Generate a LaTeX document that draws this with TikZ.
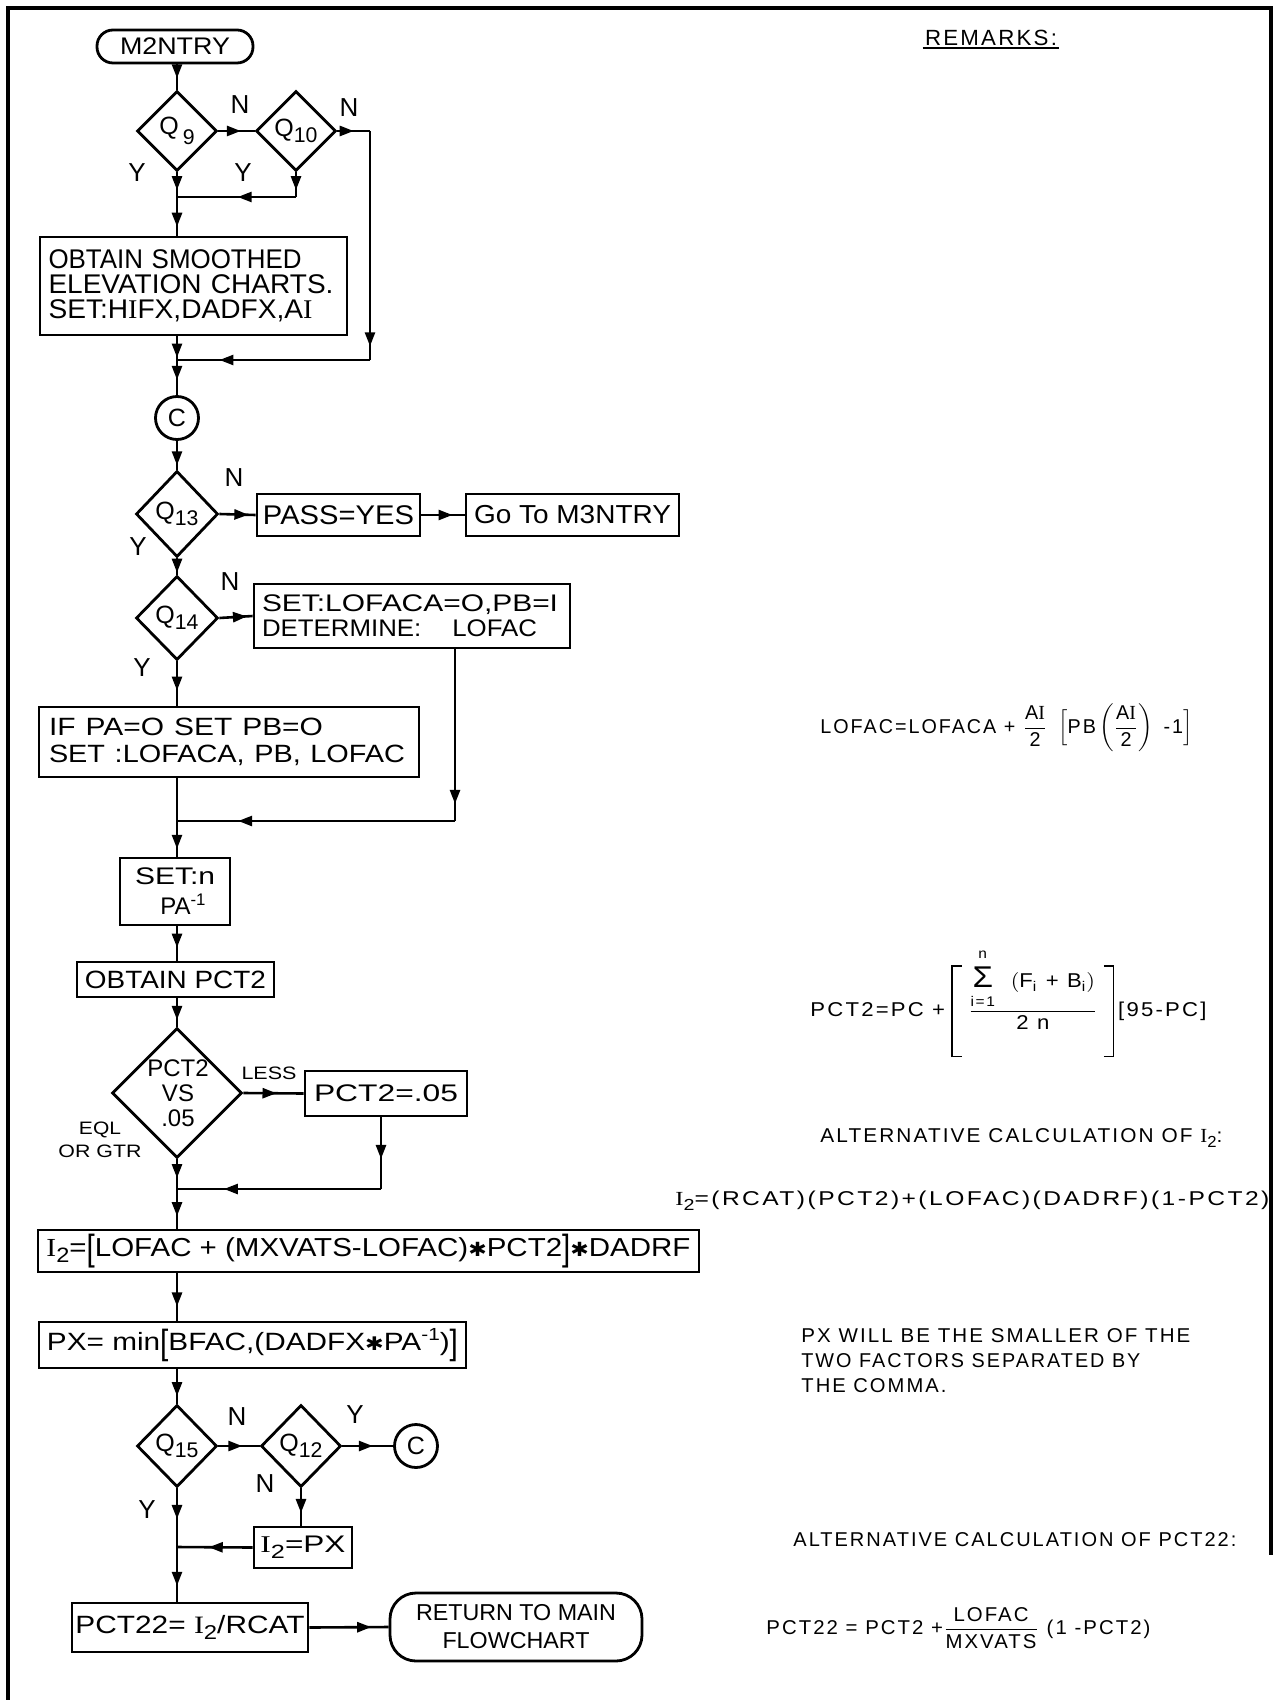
\documentclass[tikz,border=0pt]{standalone}
\usepackage{fontspec}
\usepackage{amsmath}
\usepackage{graphicx}
\setmainfont{Liberation Sans}
\newfontfamily\remfont[LetterSpace=10]{Liberation Sans}
\newfontfamily\serfont{Liberation Serif}
\newfontfamily\djv{DejaVu Sans}
\usetikzlibrary{shapes.geometric, arrows.meta, decorations.markings}
\newcommand{\fs}[1]{\fontsize{#1}{#1}\selectfont}
\newcommand{\fw}[2]{\resizebox{#1}{\height}{#2}}
\newcommand{\Iser}{{\serfont I}}
\newcommand{\sbs}[1]{\raisebox{-0.45ex}{\scalebox{0.8}{#1}}}
\newcommand{\sps}[1]{\raisebox{0.75ex}{\scalebox{0.7}{#1}}}
\newcommand{\strk}{{\djv\scalebox{0.75}{✱}}}
\newcommand{\tbl}{\raisebox{-0.3ex}{\scalebox{1}[1.4]{[}}}
\newcommand{\tbr}{\raisebox{-0.3ex}{\scalebox{1}[1.4]{]}}}
\newcommand{\rbl}{\vcenter{\hbox{\rule{0.8pt}{46pt}\rule{4pt}{0.8pt}\kern-4pt\raisebox{45.2pt}{\rule{4pt}{0.8pt}}}}}
\newcommand{\rbr}{\vcenter{\hbox{\rule{4pt}{0.8pt}\kern-4pt\raisebox{45.2pt}{\rule{4pt}{0.8pt}}\rule{0.8pt}{46pt}}}}
\newcommand{\sigm}{\raisebox{0pt}[\dimexpr\height+2.5pt][\dimexpr\depth+2.5pt]{\scalebox{1.5}{Σ}}}
\begin{document}
\begin{tikzpicture}[x=0.5pt, y=-0.5pt,
  flow/.style={line width=1.3pt},
  am/.style={postaction={decorate}, decoration={markings, mark=at position #1 with {\arrow{Triangle[length=7pt,width=5pt]}}}},
  amm/.style 2 args={postaction={decorate}, decoration={markings, mark=at position #1 with {\arrow{Triangle[length=7pt,width=5pt]}}, mark=at position #2 with {\arrow{Triangle[length=7pt,width=5pt]}}}},
  box/.style={draw, line width=1.4pt, rectangle, inner sep=0pt, font=\fs{12.5}},
  term/.style={draw, line width=1.4pt, rectangle, inner sep=0pt},
  dia/.style={draw, line width=1.4pt, diamond, aspect=1, inner sep=0pt, font=\fs{12.5}},
  conn/.style={draw, line width=1.4pt, circle, inner sep=0pt, minimum size=21.5pt, font=\fs{12.5}},
  lbl/.style={inner sep=0pt, font=\fs{13}},
  slbl/.style={inner sep=0pt, font=\fs{9}},
  rem/.style={inner sep=0pt, font=\remfont\fontsize{10}{12.5}\selectfont},
]
\useasboundingbox (0,0) rectangle (1280,1700);
\fill[white] (0,0) rectangle (1280,1700);
% frame
\draw[line width=1.8pt] (8,1700) -- (8,8) -- (1271,8) -- (1271,1555);

% ---------------- flowchart nodes ----------------
\node[term, minimum width=78pt, minimum height=16.5pt, rounded corners=8pt, font=\fs{12}] (m2) at (175,46.5) {\fw{55pt}{M2NTRY}};
\node[dia, minimum width=40pt, minimum height=40pt] (q9) at (177,131) {Q\,\raisebox{-5pt}{\scalebox{0.85}{9}}};
\node[dia, minimum width=40pt, minimum height=40pt] (q10) at (296,131) {Q\raisebox{-3pt}{\scalebox{0.85}{10}}};
\node[box, minimum width=153.5pt, minimum height=49pt, align=left, text width=145pt, font=\fontsize{13.5}{12.5}\selectfont] (obt) at (193.5,286)
  {\fw{126.5pt}{OBTAIN SMOOTHED}\\\fw{142.5pt}{ELEVATION CHARTS.}\\\fw{132pt}{SET:H\Iser FX,DADFX,A\Iser}};
\node[conn] (cc1) at (177,418) {C};
\node[dia, minimum width=41pt, minimum height=43pt] (q13) at (177,514) {Q\raisebox{-3pt}{\scalebox{0.85}{13}}};
\node[box, minimum width=81.5pt, minimum height=21pt, font=\fs{13.5}] (pass) at (338.5,515) {\fw{75.5pt}{PASS=YES}};
\node[box, minimum width=106.5pt, minimum height=21pt, font=\fs{13}] (go) at (572.5,515) {\fw{98.5pt}{Go To M3NTRY}};
\node[dia, minimum width=41pt, minimum height=42pt] (q14) at (177,618) {Q\raisebox{-3pt}{\scalebox{0.85}{14}}};
\node[box, minimum width=158pt, minimum height=32pt, align=left, text width=150pt, font=\fontsize{12}{12.5}\selectfont] (setl) at (412,616)
  {\fw{148pt}{SET:LOFACA=O,PB=I}\\\fw{137.5pt}{DETERMINE:\hspace{1.2em}LOFAC}};
\node[box, minimum width=190pt, minimum height=35pt, align=left, text width=180pt, font=\fontsize{12.5}{13.5}\selectfont] (ifpa) at (229,742)
  {\fw{137pt}{IF PA=O SET PB=O}\\\fw{178pt}{SET :LOFACA, PB, LOFAC}};
\node[box, minimum width=55pt, minimum height=33.5pt, align=center, font=\fontsize{12}{15}\selectfont] (setn) at (175,891.5)
  {\fw{40pt}{SET:n}\\\hspace*{8pt}PA\sps{-1}};
\node[box, minimum width=98.5pt, minimum height=17.5pt] (opct) at (175.5,979.5) {\fw{90.5pt}{OBTAIN PCT2}};
\node[dia, minimum width=65pt, minimum height=65pt] (vs) at (177,1093) {};
\node[inner sep=0pt, align=center, font=\fontsize{12}{12.5}\selectfont] (vst) at (178,1093) {PCT2\\VS\\.05};
\node[box, minimum width=81pt, minimum height=22.5pt, font=\fs{12}] (p05) at (386,1093.5) {\fw{72pt}{PCT2=.05}};
\node[box, minimum width=330.5pt, minimum height=21pt, font=\fs{13}] (i2) at (368.5,1251)
  {\fw{322pt}{\Iser\sbs{2}=\tbl LOFAC + (MXVATS-LOFAC)\strk PCT2\tbr\strk DADRF}};
\node[box, minimum width=213.5pt, minimum height=23pt] (px) at (252.5,1345)
  {\fw{205.5pt}{PX= min\tbl BFAC,(DADFX\strk PA\sps{-1})\tbr}};
\node[dia, minimum width=40pt, minimum height=41pt] (q15) at (177,1446) {Q\raisebox{-3pt}{\scalebox{0.85}{15}}};
\node[dia, minimum width=40pt, minimum height=41pt] (q12) at (301,1446) {Q\raisebox{-3pt}{\scalebox{0.85}{12}}};
\node[conn] (cc2) at (416,1446) {C};
\node[box, minimum width=49pt, minimum height=20.5pt, font=\fs{12}] (i2px) at (303,1547.5) {\fw{42.5pt}{\Iser\sbs{2}=PX}};
\node[box, minimum width=118pt, minimum height=24.5pt] (pct22) at (190,1627.5) {\fw{114.5pt}{PCT22= \Iser\sbs{2}/RCAT}};
\node[term, minimum width=126pt, minimum height=34pt, rounded corners=13pt, align=center, font=\fontsize{11.5}{14}\selectfont] (ret) at (516,1627)
  {\fw{100pt}{RETURN TO MAIN}\\\fw{73.5pt}{FLOWCHART}};

% junction coordinates
\coordinate (j1) at (177,197);
\coordinate (r1) at (370,131);
\coordinate (r2) at (370,360);
\coordinate (j2) at (177,360);
\coordinate (j3r) at (455,821);
\coordinate (j3) at (177,821);
\coordinate (j4r) at (381,1189);
\coordinate (j4) at (177,1189);
\coordinate (j5) at (177,1547);

% ---------------- connectors ----------------
\draw[flow, am=0.55] (m2.south -| q9.north) -- (q9.north);
\draw[flow, am=0.62] (q9.east) -- (q10.west);
\draw[flow, am=0.5] (q10.east) -- (r1);
\draw[flow, am=0.94] (r1) -- (r2);
\draw[flow, am=0.78] (r2) -- (j2);
\draw[flow, amm={0.28}{0.86}] (q9.south) -- (q9.south |- obt.north);
\draw[flow, am=0.72] (q10.south) -- (q10.south |- j1);
\draw[flow, am=0.49] (q10.south |- j1) -- (j1);
\draw[flow, amm={0.36}{0.74}] (obt.south -| j2) -- (cc1.north);
\draw[flow, am=0.85] (cc1.south) -- (q13.north);
\draw[flow, am=0.8] (q13.east) -- (pass.west);
\draw[flow, am=0.72] (pass.east) -- (go.west);
\draw[flow, am=0.88] (q13.south) -- (q14.north);
\draw[flow, am=0.83] (q14.east) -- (setl.west);
\draw[flow, am=0.66] (q14.south) -- (q14.south |- ifpa.north);
\draw[flow, am=0.9] (setl.south -| j3r) -- (j3r);
\draw[flow, am=0.78] (j3r) -- (j3);
\draw[flow, am=0.9] (ifpa.south -| j3) -- (setn.north -| j3);
\draw[flow, am=0.62] (setn.south -| j3) -- (opct.north -| j3);
\draw[flow, am=0.76] (opct.south -| j3) -- (vs.north);
\draw[flow, am=0.55] (vs.east) -- (p05.west);
\draw[flow, am=0.58] (p05.south -| j4r) -- (j4r);
\draw[flow, am=0.77] (j4r) -- (j4);
\draw[flow, amm={0.27}{0.82}] (vs.south) -- (vs.south |- i2.north);
\draw[flow, am=0.7] (i2.south -| j3) -- (px.north -| j3);
\draw[flow, am=0.78] (px.south -| j3) -- (q15.north);
\draw[flow, am=0.58] (q15.east) -- (q12.west);
\draw[flow, am=0.6] (q12.east) -- (cc2.west);
\draw[flow, am=0.66] (q12.south) -- (q12.south |- i2px.north);
\draw[flow, am=0.58] (i2px.west) -- (j5);
\draw[flow, amm={0.27}{0.86}] (q15.south) -- (q15.south |- pct22.north);
\draw[flow, am=0.78] (pct22.east) -- (ret.west);

% ---------------- branch labels ----------------
\node[lbl] (n1) at (240,105) {N};
\node[lbl] (n2) at (349,108) {N};
\node[lbl] (y1) at (137,173) {Y};
\node[lbl] (y2) at (243,173) {Y};
\node[lbl] (n3) at (234,478) {N};
\node[lbl] (y3) at (138,547) {Y};
\node[lbl] (n4) at (230,582) {N};
\node[lbl] (y4) at (142,668) {Y};
\node[slbl] (less) at (269,1073) {\fw{27.5pt}{LESS}};
\node[slbl, align=center, font=\fontsize{9}{11.5}\selectfont] (eql) at (100,1140) {\fw{21pt}{EQL}\\\fw{41.5pt}{OR GTR}};
\node[lbl] (n5) at (237,1417) {N};
\node[lbl] (y5) at (355,1415) {Y};
\node[lbl] (n6) at (265,1484) {N};
\node[lbl] (y6) at (147,1510) {Y};

% ---------------- remarks ----------------
\node[rem, inner sep=1pt, font=\remfont\fs{11}] (rmk) at (991,38) {\fw{66pt}{REMARKS:}};
\draw[line width=1pt] (rmk.south west) -- (rmk.south east);
\node[rem, anchor=west] (f1) at (820,728)
  {\fw{186pt}{$\text{LOFAC=LOFACA + }\dfrac{\text{A\Iser}}{\text{2}}\;\;\Bigl[\text{PB}\left(\dfrac{\text{A\Iser}}{\text{2}}\right)\text{ -1}\Bigr]$}};
\node[rem, anchor=west] (f2) at (810,1003)
  {\fw{198pt}{$\text{PCT2=PC +}\;\rbl\;\dfrac{\mathop{\text{\sigm}}\limits_{\text{i=1}}^{\text{n}}\;\;\left(\text{F}_{\text{i}}\text{ + B}_{\text{i}}\right)}{\text{2 n}}\;\rbr\,\text{[95-PC]}$}};
\node[rem, anchor=west] (f3) at (820,1138) {\fw{201pt}{ALTERNATIVE CALCULATION OF \Iser\sbs{2}:}};
\node[rem, anchor=west] (f4) at (675,1201) {\fw{297pt}{\Iser\sbs{2}=(RCAT)(PCT2)+(LOFAC)(DADRF)(1-PCT2)}};
\node[rem, anchor=west, align=left] (f5) at (801,1361)
  {\fw{194.5pt}{PX WILL BE THE SMALLER OF THE}\\\fw{169.5pt}{TWO FACTORS SEPARATED BY}\\\fw{72.5pt}{THE COMMA.}};
\node[rem, anchor=west] (f6) at (793,1540) {\fw{221.5pt}{ALTERNATIVE CALCULATION OF PCT22:}};
\node[rem, anchor=west] (f7) at (766,1628)
  {\fw{192pt}{$\text{PCT22 = PCT2 +}\dfrac{\text{LOFAC}}{\text{MXVATS}}\text{ (1 -PCT2)}$}};
\end{tikzpicture}
\end{document}
